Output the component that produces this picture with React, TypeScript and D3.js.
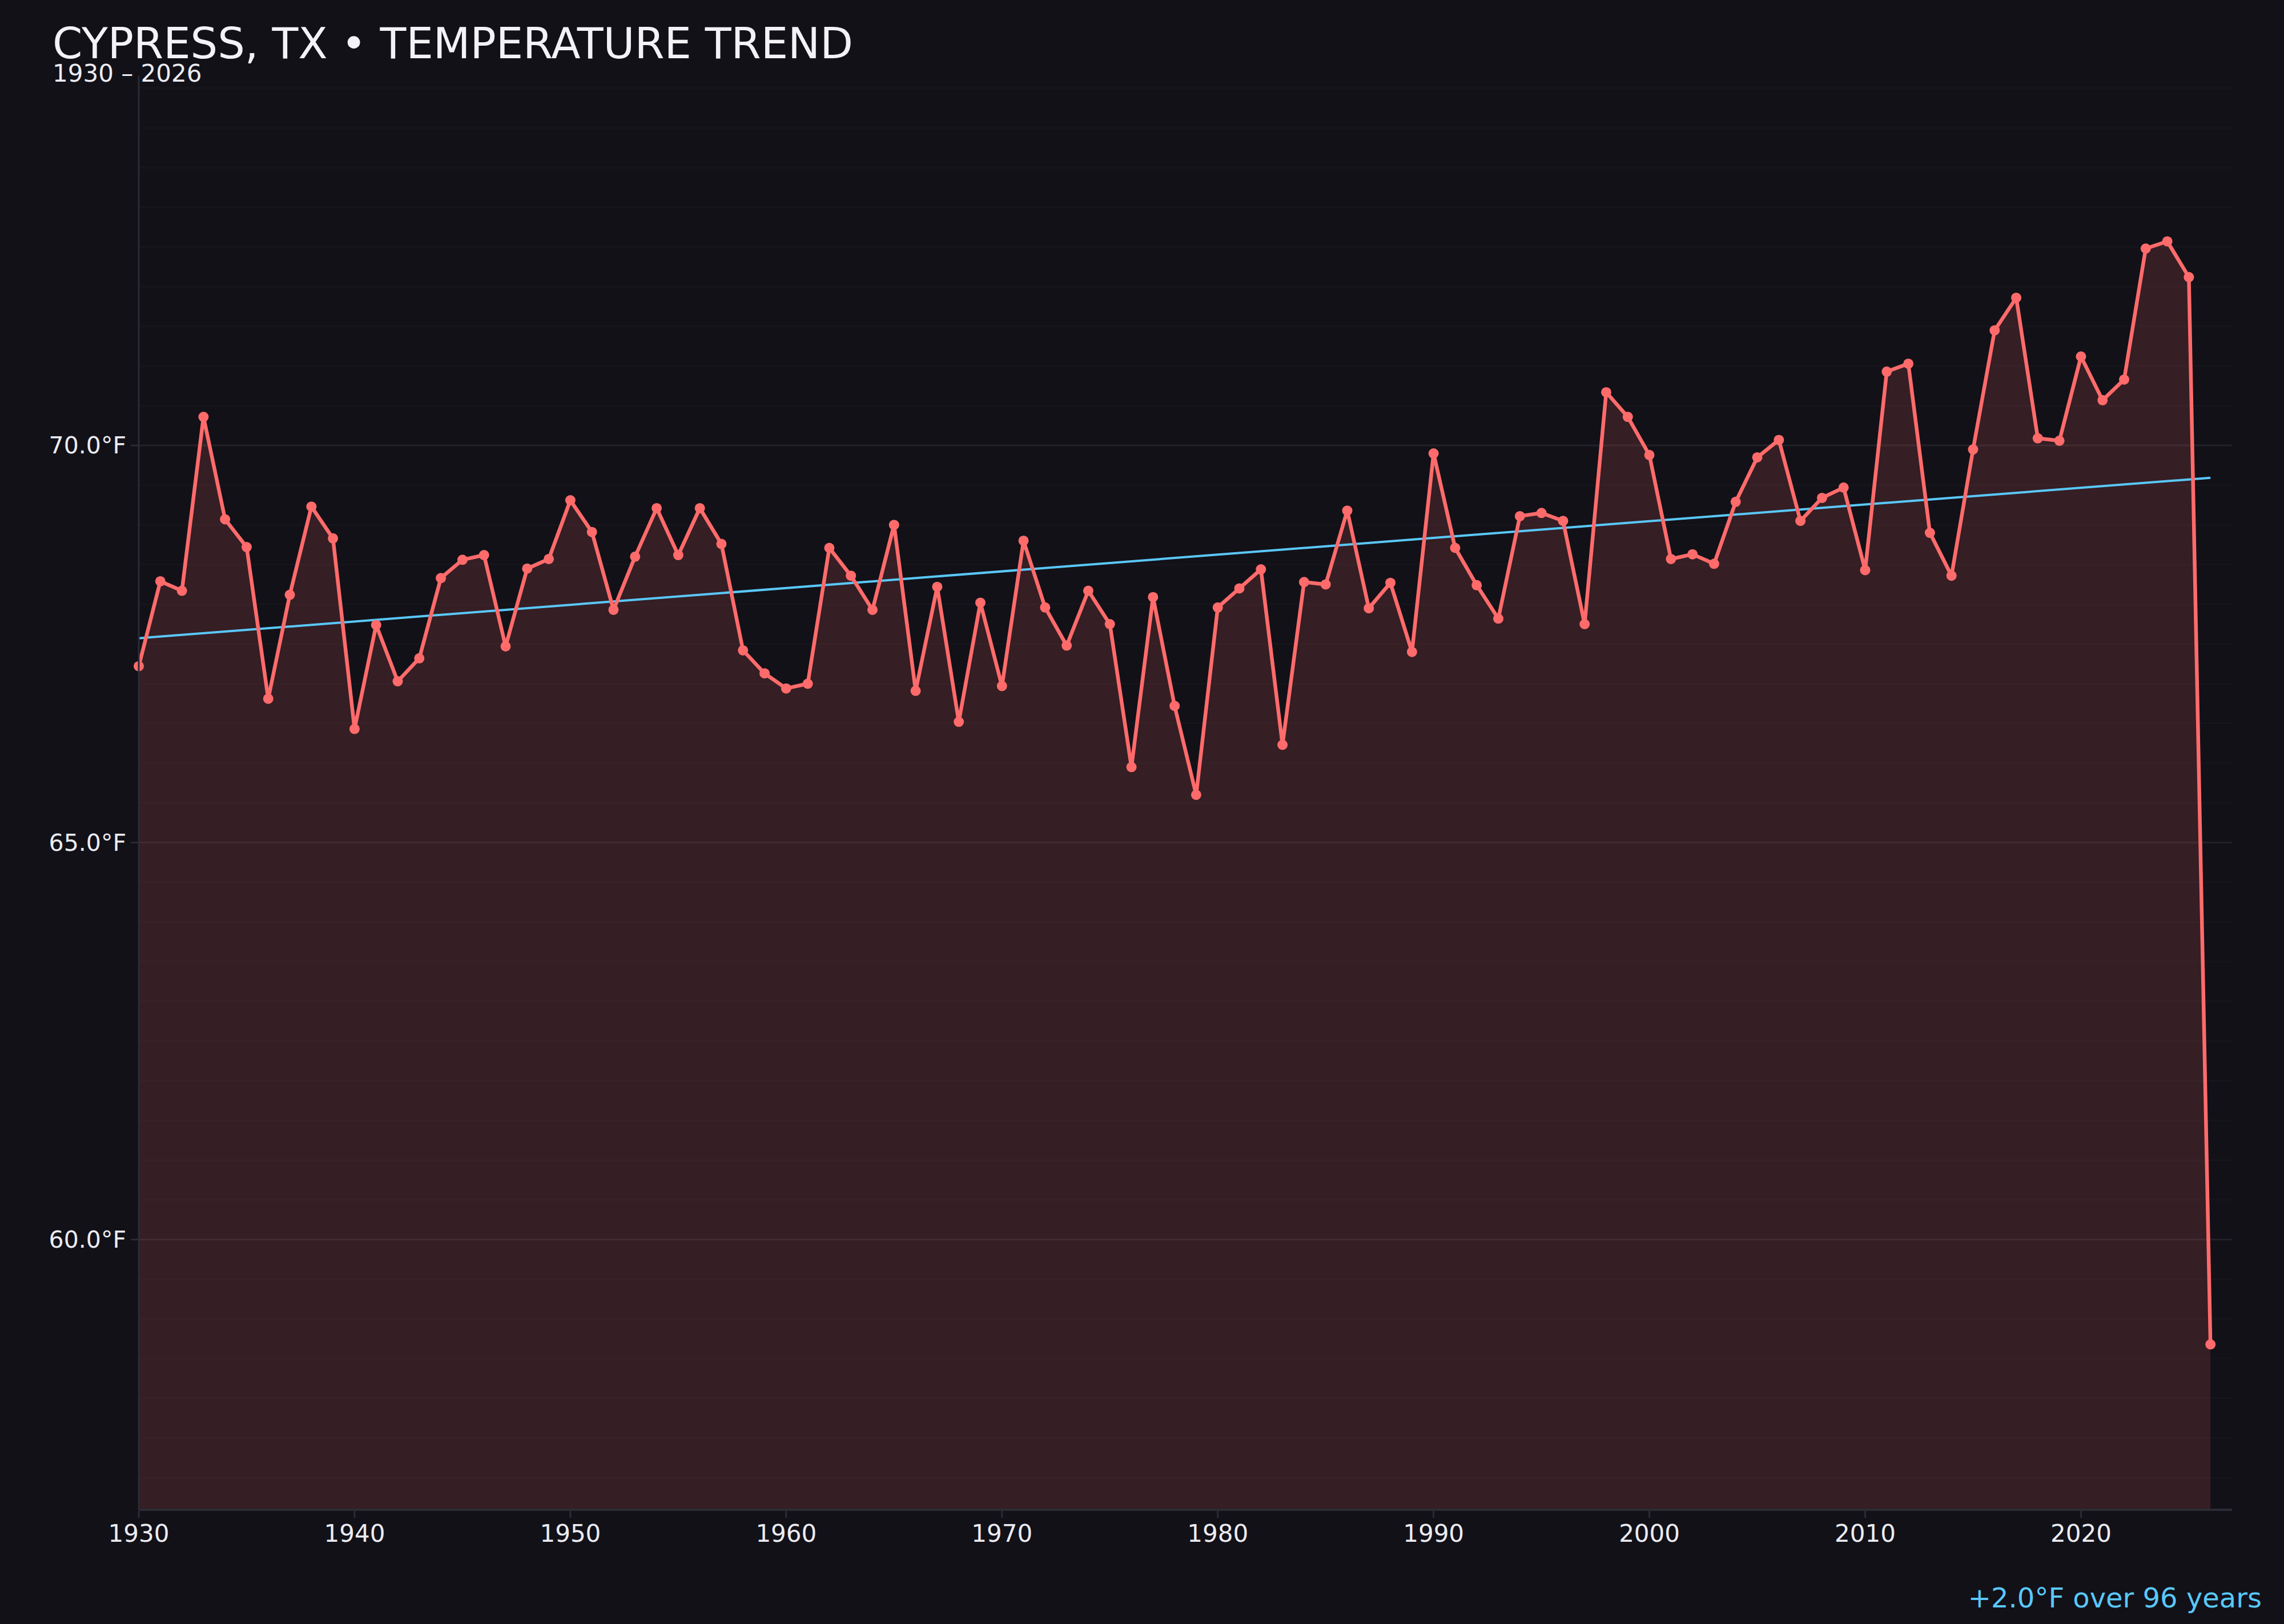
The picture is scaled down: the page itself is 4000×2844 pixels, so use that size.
import React from 'react'
import * as d3 from 'd3'

const title = 'CYPRESS, TX • TEMPERATURE TREND'
const subtitle = '1930 – 2026'
const trendLabel = '+2.0°F over 96 years'

const firstYear = 1930
const lastYear = 2026

// annual mean temperature, °F
const temps = [
  67.22, 68.29, 68.17, 70.36, 69.07, 68.72, 66.81, 68.12, 69.23, 68.83,
  66.43, 67.74, 67.03, 67.32, 68.33, 68.56, 68.62, 67.47, 68.45, 68.57,
  69.31, 68.91, 67.93, 68.6, 69.21, 68.62, 69.21, 68.76, 67.42, 67.13,
  66.94, 67.0, 68.71, 68.36, 67.93, 69.0, 66.91, 68.22, 66.52, 68.02,
  66.97, 68.8, 67.96, 67.48, 68.17, 67.75, 65.95, 68.09, 66.72, 65.6,
  67.96, 68.2, 68.44, 66.23, 68.28, 68.25, 69.18, 67.95, 68.27, 67.4,
  69.9, 68.71, 68.24, 67.82, 69.11, 69.15, 69.05, 67.75, 70.67, 70.36,
  69.88, 68.57, 68.63, 68.51, 69.29, 69.85, 70.07, 69.05, 69.34, 69.47,
  68.43, 70.93, 71.03, 68.9, 68.36, 69.95, 71.45, 71.86, 70.09, 70.06,
  71.12, 70.57, 70.83, 72.48, 72.57, 72.12, 58.68,
]

const years = d3.range(firstYear, lastYear + 1)
const xTicks = d3.range(1930, 2021, 10)
const yTicks = [60, 65, 70]

const W = 4000
const H = 2844
const margin = { top: 133, right: 91, bottom: 200, left: 243 }

const bg = '#121118'
const red = '#ff6b6b'
const blue = '#5ac8fa'
const axisColor = '#2b2b35'
const textColor = '#ececf2'

type Pt = { year: number; t: number }
const data: Pt[] = years.map((y, i) => ({ year: y, t: temps[i] }))

export default function App() {
  const [lo, hi] = d3.extent(temps) as [number, number]
  const pad = (hi - lo) * 0.15

  const x = d3
    .scaleLinear()
    .domain([firstYear, lastYear + 1])
    .range([margin.left, W - margin.right])
  const y = d3
    .scaleLinear()
    .domain([lo - pad, hi + pad])
    .range([H - margin.bottom, margin.top])

  // least squares trend
  const mx = d3.mean(years) as number
  const my = d3.mean(temps) as number
  const slope =
    (d3.sum(data, (d) => (d.year - mx) * (d.t - my)) as number) /
    (d3.sum(years, (v) => (v - mx) * (v - mx)) as number)
  const fit = (v: number) => my + slope * (v - mx)

  const line = d3
    .line<Pt>()
    .x((d) => x(d.year))
    .y((d) => y(d.t))
  const area = d3
    .area<Pt>()
    .x((d) => x(d.year))
    .y0(y.range()[0])
    .y1((d) => y(d.t))

  const grid = d3.range(57, 74.6, 0.5)
  const [x0, x1] = x.range()
  const [yb, yt] = y.range()

  return (
    <svg
      width={W}
      height={H}
      style={{ position: 'absolute', left: 0, top: 0, display: 'block' }}
      fontFamily="DejaVu Sans"
    >
      <rect width={W} height={H} fill={bg} />

      {grid.map((g) => (
        <line
          key={g}
          x1={x0}
          x2={x1}
          y1={y(g)}
          y2={y(g)}
          stroke="#fff"
          strokeOpacity={g % 5 === 0 ? 0.07 : 0.018}
          strokeWidth={3}
        />
      ))}

      <path d={area(data) ?? ''} fill={red} fillOpacity={0.15} />

      <line
        x1={x(firstYear)}
        x2={x(lastYear)}
        y1={y(fit(firstYear))}
        y2={y(fit(lastYear))}
        stroke={blue}
        strokeWidth={4}
      />

      <path d={line(data) ?? ''} fill="none" stroke={red} strokeWidth={6.5} strokeLinejoin="round" />
      {data.map((d) => (
        <circle key={d.year} cx={x(d.year)} cy={y(d.t)} r={9} fill={red} />
      ))}

      {/* axes */}
      <line x1={x0} x2={x0} y1={yt} y2={yb} stroke={axisColor} strokeWidth={3} />
      <line x1={x0} x2={x1} y1={yb} y2={yb} stroke={axisColor} strokeWidth={4} />
      {xTicks.map((t) => (
        <g key={t} transform={`translate(${x(t)},${yb})`}>
          <line y1={2} y2={14} stroke={axisColor} strokeWidth={3} />
          <text y={56} textAnchor="middle" fontSize={42} fill={textColor}>
            {t}
          </text>
        </g>
      ))}
      {yTicks.map((t) => (
        <g key={t} transform={`translate(${x0},${y(t)})`}>
          <line x1={-14} x2={0} stroke={axisColor} strokeWidth={3} />
          <text x={-22} dy="0.35em" textAnchor="end" fontSize={41} fill={textColor}>
            {t.toFixed(1)}°F
          </text>
        </g>
      ))}

      <text x={92} y={102} fontSize={75} fill="#f2f2f7">
        {title}
      </text>
      <text x={92} y={143} fontSize={42} fill={textColor}>
        {subtitle}
      </text>
      <text x={3961} y={2815} textAnchor="end" fontSize={48} fill={blue}>
        {trendLabel}
      </text>
    </svg>
  )
}
